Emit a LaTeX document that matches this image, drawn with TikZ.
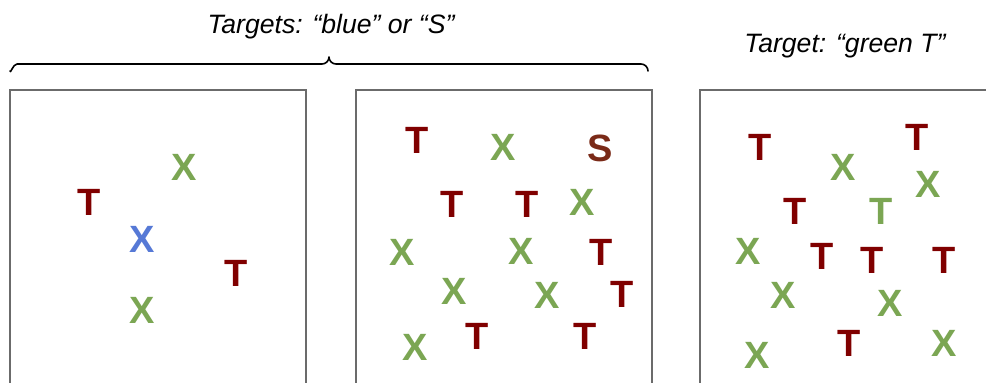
\documentclass[tikz,border=0pt]{standalone}
\usepackage{fontspec}
\setmainfont{Liberation Sans}
\definecolor{tred}{HTML}{800000}
\definecolor{tgreen}{HTML}{7BA653}
\definecolor{tblue}{HTML}{5679D6}
\definecolor{tbrown}{HTML}{7A2A18}
\definecolor{boxgray}{HTML}{6B6B6B}
\tikzset{
  lt/.style={inner sep=0pt, font=\fontsize{38}{38}\selectfont\bfseries},
  rt/.style={lt, text=tred},
  gx/.style={lt, text=tgreen},
  bx/.style={lt, text=tblue},
  bs/.style={lt, text=tbrown},
  panel/.style={draw=boxgray, line width=2pt},
  title/.style={inner sep=0pt, anchor=base, font=\fontsize{26.6}{26.6}\selectfont\itshape},
  brace/.style={draw=black, line width=1.6pt, line cap=round, line join=round}
}
\begin{document}
\begin{tikzpicture}[x=1pt,y=-1pt]
\useasboundingbox (0,0) rectangle (986,383);
\clip (0,0) rectangle (986,383);
% titles
\node[title] (t1) at (331,33.5) {Targets: “blue” or “S”};
\node[title] (t2) at (845,52) {Target: “green T”};
% brace
\draw[brace] (10,71) to[out=-90,in=180] (17,64) -- (322,64) to[out=0,in=-90] (329,57) to[out=-90,in=180] (336,64) -- (641,64) to[out=0,in=90] (648,71);
% panels
\draw[panel] (10,90) rectangle (306,400);
\draw[panel] (356,90) rectangle (652,400);
\draw[panel] (700,90) rectangle (1000,400);
% panel 1
\node[gx] (a1) at (184,167) {X};
\node[rt] (a2) at (89,202) {T};
\node[bx] (a3) at (142,239) {X};
\node[rt] (a4) at (236,273) {T};
\node[gx] (a5) at (142,310) {X};
% panel 2
\node[rt] (b1) at (417,140) {T};
\node[gx] (b2) at (503,147) {X};
\node[bs] (b3) at (600,148) {S};
\node[rt] (b4) at (452,204) {T};
\node[rt] (b5) at (527,204) {T};
\node[gx] (b6) at (582,202) {X};
\node[gx] (b7) at (402,252) {X};
\node[gx] (b8) at (521,251) {X};
\node[rt] (b9) at (601,252) {T};
\node[gx] (b10) at (454,291) {X};
\node[gx] (b11) at (547,295) {X};
\node[rt] (b12) at (622,294) {T};
\node[gx] (b13) at (415,347) {X};
\node[rt] (b14) at (477,336) {T};
\node[rt] (b15) at (585,336) {T};
% panel 3
\node[rt] (c1) at (760,147) {T};
\node[rt] (c2) at (917,137) {T};
\node[gx] (c3) at (843,167) {X};
\node[gx] (c4) at (928,184) {X};
\node[rt] (c5) at (795,211) {T};
\node[gx] (c6) at (881,211) {T};
\node[gx] (c7) at (748,251) {X};
\node[rt] (c8) at (822,256) {T};
\node[rt] (c9) at (872,260) {T};
\node[rt] (c10) at (944,260) {T};
\node[gx] (c11) at (783,295) {X};
\node[gx] (c12) at (890,303) {X};
\node[rt] (c13) at (849,343) {T};
\node[gx] (c14) at (944,343) {X};
\node[gx] (c15) at (757,355) {X};
\end{tikzpicture}
\end{document}
